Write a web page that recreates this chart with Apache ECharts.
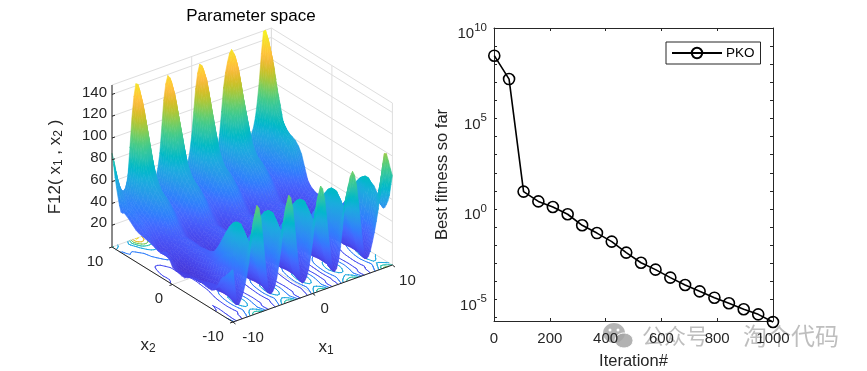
<!DOCTYPE html>
<html>
<head>
<meta charset="utf-8">
<style>html,body{margin:0;padding:0;background:#fff}#c{width:867px;height:371px}</style>
<script src="https://cdn.jsdelivr.net/npm/echarts@6/dist/echarts.min.js"></script>
</head>
<body>
<div id="c"></div>
<script>
// ---------- convergence curve ----------
const iterations = [1,54,106,159,211,264,316,369,422,474,527,579,632,685,737,790,842,895,947,1000];
const bestFitness = [2.95e8,1.51e7,9.12,2.63,1.29,0.513,0.126,0.0468,0.0158,0.00389,0.00107,4.47e-4,1.62e-4,6.31e-5,2.82e-5,1.26e-5,6.17e-6,2.88e-6,1.51e-6,5.75e-7];
const xTickLabels = [0,200,400,600,800,1000];
const yDecades = [-6,-5,-4,-3,-2,-1,0,1,2,3,4,5,6,7,8,9,10];
const yLabelDecades = [-5,0,5,10];

// ---------- surface samples ----------
const x1Values = [-10,-9.5,-9,-8.5,-8,-7.5,-7,-6.5,-6,-5.5,-5,-4.5,-4,-3.5,-3,-2.5,-2,-1.5,-1,-0.5,0,0.5,1,1.5,2,2.5,3,3.5,4,4.5,5,5.5,6,6.5,7,7.5,8,8.5,9,9.5,10];
const x2Values = [-10,-9.5,-9,-8.5,-8,-7,-6,-5,-4,-3,-2,-1,0,1,2,3,4,5,6,7,8,8.5,9,9.5,10];
const surfaceZ = [
[48,16,18,30,50,80,99,86,48,17,15,26,50,80,98,85,48,17,14,24,48,78,96,83,47,17,15,34,68,88,99,85,50,18,16,28,46,70,105,97,82],
[44,15,15,25,40,64,78,68,40,16,14,22,40,64,78,68,40,16,14,20,38,62,78,68,40,16,14,28,54,70,78,67,40,16,15,24,38,56,83,77,62],
[40,17,16,22,34,52,62,54,34,17,15,20,34,52,62,54,34,17,15,18,32,50,62,54,35,18,15,26,44,56,63,53,35,18,16,22,33,45,66,61,52],
[36,19,14,17,28,46,57,53,38,23,14,16,28,46,57,53,38,23,14,15,28,46,57,53,39,24,14,23,41,52,58,52,39,24,14,18,28,41,58,54,47],
[32,20,14,18,29,50,62,57,40,24,14,16,30,50,62,57,40,24,14,15,29,50,62,57,42,25,14,24,44,56,63,56,42,25,14,19,30,44,63,59,51],
[19,21,14,19,32,58,72,66,46,26,14,17,33,58,72,66,46,26,14,16,33,57,72,66,48,27,14,26,50,65,72,65,48,27,14,20,33,50,72,68,62],
[17,20,13,18,31,55,69,63,44,24,13,16,31,55,69,63,44,24,13,15,31,54,69,63,45,25,13,24,48,62,69,62,45,25,13,19,31,48,69,65,57],
[18,18,13,17,27,47,58,53,38,22,13,15,28,47,58,53,38,22,13,14,27,46,58,53,39,23,13,22,41,52,58,52,39,23,13,18,27,41,59,55,47],
[19,15,12,15,22,36,44,41,30,18,12,14,23,36,44,41,30,18,12,13,22,36,44,41,31,19,12,18,32,40,44,40,31,19,12,15,22,32,45,42,36],
[17,14,11,13,18,28,33,31,23,15,11,12,18,28,33,31,24,15,11,12,18,27,33,31,24,16,11,15,25,30,33,30,24,16,11,13,18,25,34,32,27],
[13,14,12,13,17,25,29,27,21,15,12,13,18,25,29,27,21,15,12,12,17,25,29,27,22,16,12,15,23,27,29,27,22,16,12,14,17,23,29,28,25],
[14,13,11,12,16,23,28,26,20,14,11,12,17,24,28,26,20,14,11,12,16,24,28,26,21,15,11,14,22,26,28,26,21,15,11,13,16,22,28,27,24],
[16,13,11,12,16,23,27,25,20,14,11,12,16,23,27,25,20,14,11,11,16,23,27,25,20,14,11,14,21,25,27,25,20,14,11,13,16,21,27,26,23],
[26,18,14,15,18,23,27,26,21,17,14,14,18,23,27,26,21,17,14,14,18,23,27,26,21,17,13,16,22,25,27,25,21,17,13,14,18,22,27,26,22],
[22,19,17,18,20,24,27,26,22,19,17,17,20,24,27,26,22,19,16,17,20,24,27,26,23,19,16,18,22,25,27,26,22,19,16,17,20,23,27,26,22],
[24,20,17,18,20,25,28,27,23,19,16,17,20,25,28,27,23,19,16,17,20,25,28,27,23,19,16,18,23,26,28,27,23,19,16,17,20,23,28,27,24],
[26,23,19,20,25,33,37,36,29,23,19,20,25,33,37,36,29,23,19,19,25,33,37,36,30,23,18,22,30,35,38,35,30,23,18,20,25,30,38,37,30],
[27,29,27,28,33,41,46,44,38,31,26,27,33,41,46,44,38,31,26,27,33,41,46,45,39,32,26,31,39,44,47,45,39,32,26,29,35,44,57,54,50],
[29,35,33,35,41,49,54,52,46,38,32,33,41,49,54,52,46,38,32,33,41,49,54,53,47,39,32,38,48,52,55,53,47,39,32,36,42,51,65,62,59],
[34,38,36,38,44,55,60,58,50,41,35,36,44,55,60,58,50,41,35,36,44,55,60,59,51,42,35,41,52,58,61,58,51,42,35,39,46,56,71,68,62],
[38,41,40,44,54,68,76,74,62,49,40,41,53,67,75,73,61,48,39,40,52,67,76,74,62,49,39,47,63,72,77,73,62,49,39,43,52,65,84,80,68],
[37,44,40,45,59,85,98,94,73,52,40,43,60,84,97,93,73,51,39,41,59,84,98,94,75,53,39,51,77,92,100,93,75,53,39,45,59,77,102,97,82],
[49,50,44,50,68,99,116,110,85,59,44,48,68,98,115,108,84,58,43,46,67,98,115,110,86,60,43,58,90,108,118,108,86,60,43,51,68,90,121,114,95],
[66,56,48,52,76,113,133,124,96,65,48,52,77,112,131,122,95,65,48,51,76,112,131,125,98,67,47,65,102,124,135,124,98,67,47,56,76,102,139,131,112],
[86,68,52,48,60,112,142,132,100,70,52,50,70,118,139,128,100,70,54,52,76,118,139,130,105,75,52,68,110,132,142,130,105,75,54,58,72,105,148,142,125]
];
const zTicks = [20,40,60,80,100,120,140];
const floorTicks = [-10,0,10];
const contourLevels = [20,40,60,80,100,120,140];

// ---------- view of the 3-D box ----------
const FONT = '"Liberation Sans", Arial, sans-serif';
const INK = '#262626';
const ORIGIN = [233,322], STEP1 = [7.97,-2.85], STEP2 = [-6.05,-3.75], ZSCALE = 1.09, ZTOP = 148.6;
function project(x1,x2,z){
  return [ORIGIN[0]+(x1+10)*STEP1[0]+(x2+10)*STEP2[0],
          ORIGIN[1]+(x1+10)*STEP1[1]+(x2+10)*STEP2[1]-z*ZSCALE];
}
const PARULA = [[.2422,.1504,.6603],[.2504,.1650,.7076],[.2578,.1818,.7511],[.2647,.1978,.7952],[.2706,.2147,.8364],[.2751,.2342,.8710],[.2783,.2559,.8991],[.2803,.2782,.9221],[.2813,.3006,.9414],[.2810,.3228,.9579],[.2795,.3447,.9717],[.2760,.3667,.9829],[.2699,.3892,.9906],[.2602,.4123,.9952],[.2440,.4358,.9988],[.2206,.4603,.9973],[.1963,.4847,.9892],[.1834,.5074,.9798],[.1786,.5289,.9682],[.1764,.5499,.9520],[.1687,.5703,.9359],[.1540,.5902,.9218],[.1460,.6091,.9079],[.1380,.6276,.8973],[.1248,.6459,.8883],[.1113,.6635,.8763],[.0952,.6798,.8598],[.0689,.6948,.8394],[.0297,.7082,.8163],[.0036,.7203,.7917],[.0067,.7312,.7660],[.0433,.7411,.7394],[.0964,.7500,.7120],[.1408,.7584,.6842],[.1717,.7670,.6554],[.1938,.7758,.6251],[.2161,.7843,.5923],[.2470,.7918,.5567],[.2906,.7973,.5188],[.3406,.8008,.4789],[.3909,.8029,.4354],[.4456,.8024,.3909],[.5044,.7993,.3480],[.5616,.7942,.3045],[.6174,.7876,.2612],[.6720,.7793,.2227],[.7242,.7698,.1910],[.7738,.7598,.1646],[.8203,.7498,.1535],[.8634,.7406,.1596],[.9035,.7330,.1774],[.9393,.7288,.2100],[.9728,.7298,.2394],[.9956,.7434,.2371],[.9970,.7659,.2199],[.9952,.7893,.2028],[.9892,.8136,.1885],[.9786,.8386,.1766],[.9676,.8639,.1643],[.9610,.8890,.1537],[.9597,.9135,.1423],[.9628,.9373,.1265],[.9691,.9606,.1064],[.9769,.9839,.0805]];
function parula(z){
  const t = Math.max(0,Math.min(1,z/152))*(PARULA.length-1);
  const i = Math.min(PARULA.length-2,Math.floor(t)), f = t-i;
  const c = [0,1,2].map(k=>Math.round(255*(PARULA[i][k]*(1-f)+PARULA[i+1][k]*f)));
  return 'rgb('+c.join(',')+')';
}

// Smooth display mesh between the read samples (the analogue of MATLAB's interp shading)
const SUB1 = 2, SUB2 = 2;
function cubic(a,b,c,d,t){
  return b+0.5*t*(c-a+t*(2*a-5*b+4*c-d+t*(3*(b-c)+d-a)));
}
function resample(arr,sub){
  const out=[], n=arr.length;
  for(let i=0;i<n-1;i++) for(let s=0;s<sub;s++){
    out.push(cubic(arr[Math.max(0,i-1)],arr[i],arr[i+1],arr[Math.min(n-1,i+2)],s/sub));
  }
  out.push(arr[n-1]);
  return out;
}
function linspaceBetween(arr,sub){
  const out=[];
  for(let i=0;i<arr.length-1;i++) for(let s=0;s<sub;s++) out.push(arr[i]+(arr[i+1]-arr[i])*s/sub);
  out.push(arr[arr.length-1]);
  return out;
}
const meshX1 = linspaceBetween(x1Values,SUB1);
const meshX2 = linspaceBetween(x2Values,SUB2);
const rowsFine = surfaceZ.map(r=>resample(r,SUB1));
const meshColumns = meshX1.map((_,i)=>resample(rowsFine.map(r=>r[i]),SUB2));
const meshZ = meshX2.map((_,j)=>meshX1.map((_,i)=>Math.max(3,meshColumns[i][j])));

// back-to-front cell order
const cells = [];
for(let i=meshX1.length-2;i>=0;i--) for(let j=meshX2.length-2;j>=0;j--) cells.push([i,j]);

function renderCell(params,api){
  const c = cells[params.dataIndex], i=c[0], j=c[1];
  const corners = [[i,j],[i+1,j],[i+1,j+1],[i,j+1]];
  const pts = corners.map(q=>api.coord(project(meshX1[q[0]],meshX2[q[1]],meshZ[q[1]][q[0]])));
  const zs = corners.map(q=>meshZ[q[1]][q[0]]);
  let lo=0,hi=0;
  zs.forEach((z,k)=>{ if(z<zs[lo]) lo=k; if(z>zs[hi]) hi=k; });
  let fill;
  if(Math.abs(pts[lo][1]-pts[hi][1])<1){ fill = parula((zs[lo]+zs[hi])/2); }
  else {
    const stops=[];
    for(let s=0;s<=3;s++) stops.push({offset:s/3,color:parula(zs[lo]+(zs[hi]-zs[lo])*s/3)});
    fill = new echarts.graphic.LinearGradient(0,pts[lo][1],0,pts[hi][1],stops,true);
  }
  return {type:'polygon',shape:{points:pts},style:{fill:fill,stroke:fill,lineWidth:0.6},silent:true};
}

// marching squares on the floor
function contourSegments(level){
  const segs=[];
  const cross=(a,b,za,zb)=>{const t=(level-za)/(zb-za);return [a[0]+(b[0]-a[0])*t,a[1]+(b[1]-a[1])*t];};
  for(let j=0;j<meshX2.length-1;j++) for(let i=0;i<meshX1.length-1;i++){
    const q=[[meshX1[i],meshX2[j]],[meshX1[i+1],meshX2[j]],[meshX1[i+1],meshX2[j+1]],[meshX1[i],meshX2[j+1]]];
    const z=[meshZ[j][i],meshZ[j][i+1],meshZ[j+1][i+1],meshZ[j+1][i]];
    const hits=[];
    for(let k=0;k<4;k++){
      const n=(k+1)%4;
      if((z[k]<level)!==(z[n]<level)) hits.push(cross(q[k],q[n],z[k],z[n]));
    }
    if(hits.length===2) segs.push([hits[0],hits[1]]);
    if(hits.length===4){ segs.push([hits[0],hits[1]]); segs.push([hits[2],hits[3]]); }
  }
  return segs;
}
function renderContour(params,api){
  const level=contourLevels[params.dataIndex];
  const color=parula(level);
  return {type:'group',silent:true,children:contourSegments(level).map(s=>{
    const a=api.coord(project(s[0][0],s[0][1],0)), b=api.coord(project(s[1][0],s[1][1],0));
    return {type:'line',shape:{x1:a[0],y1:a[1],x2:b[0],y2:b[1]},style:{stroke:color,lineWidth:1,lineCap:'round'}};
  })};
}

function lineEl(api,p,q,color,w){
  const a=api.coord(p), b=api.coord(q);
  return {type:'line',shape:{x1:a[0],y1:a[1],x2:b[0],y2:b[1]},style:{stroke:color,lineWidth:w}};
}
function renderWalls(params,api){
  const g='#dedede', ch=[];
  const add=(a,b)=>ch.push(lineEl(api,project(a[0],a[1],a[2]),project(b[0],b[1],b[2]),g,1));
  zTicks.concat([ZTOP]).forEach(z=>{ add([-10,10,z],[10,10,z]); add([10,10,z],[10,-10,z]); });
  floorTicks.forEach(t=>{
    add([t,10,0],[t,10,ZTOP]); add([10,t,0],[10,t,ZTOP]);
    add([t,-10,0],[t,10,0]); add([-10,t,0],[10,t,0]);
  });
  return {type:'group',silent:true,children:ch};
}
function textEl(api,p,dx,dy,text,align){
  const a=api.coord(p);
  return {type:'text',x:a[0]+dx,y:a[1]+dy,style:{text:text,fill:INK,fontFamily:FONT,fontSize:15,align:align,verticalAlign:'middle'}};
}
function renderFrame(params,api){
  const ink=INK, ch=[];
  const P=(a,b,c)=>project(a,b,c);
  ch.push(lineEl(api,P(-10,10,0),P(-10,10,ZTOP),ink,1));
  ch.push(lineEl(api,P(-10,10,0),P(-10,-10,0),ink,1));
  ch.push(lineEl(api,P(-10,-10,0),P(10,-10,0),ink,1));
  zTicks.forEach(z=>{
    const a=api.coord(P(-10,10,z));
    ch.push({type:'line',shape:{x1:a[0],y1:a[1],x2:a[0]+3,y2:a[1]-1},style:{stroke:ink,lineWidth:1}});
    ch.push(textEl(api,P(-10,10,z),-5,-2,String(z),'right'));
  });
  floorTicks.forEach(t=>{
    const a=api.coord(P(t,-10,0)), b=api.coord(P(-10,t,0));
    ch.push({type:'line',shape:{x1:a[0],y1:a[1],x2:a[0]+2.5,y2:a[1]+2},style:{stroke:ink,lineWidth:1}});
    ch.push({type:'line',shape:{x1:b[0],y1:b[1],x2:b[0]-3,y2:b[1]+1},style:{stroke:ink,lineWidth:1}});
    ch.push(textEl(api,P(t,-10,0),t===-10?20:(t===0?12:15),15.5,String(t),'center'));
    ch.push(textEl(api,P(-10,t,0),t===-10?-20:(t===0?-13.5:-17),14.5,String(t),'center'));
  });
  return {type:'group',silent:true,children:ch};
}

const sup=v=>{
  const e=Math.round(Math.log10(v));
  return '{b|10}{s|'+e+'}';
};
const labelRich={b:{fontSize:15,color:INK,fontFamily:FONT,padding:[5,0,0,0]},s:{fontSize:11.5,color:INK,fontFamily:FONT,padding:[0,0,5,0],verticalAlign:'top'}};
const Y_MIN=Math.pow(10,10-293/18.1);
const subRich={t:{fontSize:12,fontFamily:FONT,fill:INK,padding:[8,0,0,0]}};

const option={
  animation:false,
  backgroundColor:'#fff',
  textStyle:{fontFamily:FONT},
  title:{text:'Parameter space',left:246,top:3,textAlign:'center',textStyle:{fontFamily:FONT,fontSize:17,fontWeight:'normal',color:'#000'}},
  legend:{data:['PKO'],left:666,top:42,orient:'horizontal',itemWidth:50,itemHeight:13,itemGap:0,padding:[4,6,4,5],
    borderColor:INK,borderWidth:1,backgroundColor:'#fff',selectedMode:false,
    textStyle:{fontFamily:FONT,fontSize:13.5,color:'#000',padding:[0,0,0,-1]}},
  grid:[{left:0,top:0,width:867,height:371,show:false,outerBoundsMode:'none'},{left:494,top:28,width:279,height:293,show:false,outerBoundsMode:'none'}],
  xAxis:[
    {gridIndex:0,type:'value',min:0,max:867,show:false},
    {gridIndex:1,type:'value',min:0,max:1000,interval:200,position:'bottom',
      name:'Iteration#',nameLocation:'middle',nameGap:32,nameTextStyle:{fontFamily:FONT,fontSize:16.5,color:INK},
      axisLine:{show:true,onZero:false,lineStyle:{color:INK}},axisTick:{show:true,inside:true,length:3,lineStyle:{color:INK}},
      axisLabel:{fontFamily:FONT,fontSize:15,color:INK,margin:10,showMinLabel:true,showMaxLabel:true,customValues:xTickLabels,formatter:v=>String(v)},splitLine:{show:false}},
    {gridIndex:1,type:'value',min:0,max:1000,interval:200,position:'top',
      axisLine:{show:true,onZero:false,lineStyle:{color:INK}},axisTick:{show:true,inside:true,length:3,lineStyle:{color:INK}},
      axisLabel:{show:false},splitLine:{show:false}}
  ],
  yAxis:[
    {gridIndex:0,type:'value',min:0,max:371,inverse:true,show:false},
    {gridIndex:1,type:'log',logBase:10,min:Y_MIN,max:1e10,position:'left',
      name:'Best fitness so far',nameLocation:'middle',nameGap:43,nameTextStyle:{fontFamily:FONT,fontSize:16.5,color:INK},
      axisLine:{show:true,onZero:false,lineStyle:{color:INK}},
      axisTick:{show:true,inside:true,length:3,lineStyle:{color:INK},customValues:yDecades.map(d=>Math.pow(10,d))},
      axisLabel:{fontFamily:FONT,color:INK,margin:7,padding:[7,0,0,0],customValues:yLabelDecades.map(d=>Math.pow(10,d)),formatter:sup,rich:labelRich},
      splitLine:{show:false},minorTick:{show:false}},
    {gridIndex:1,type:'log',logBase:10,min:Y_MIN,max:1e10,position:'right',
      axisLine:{show:true,onZero:false,lineStyle:{color:INK}},
      axisTick:{show:true,inside:true,length:3,lineStyle:{color:INK},customValues:yDecades.map(d=>Math.pow(10,d))},
      axisLabel:{show:false},splitLine:{show:false},minorTick:{show:false}}
  ],
  series:[
    {type:'custom',name:'walls',xAxisIndex:0,yAxisIndex:0,data:[[0,0]],renderItem:renderWalls,clip:false,silent:true,z:1},
    {type:'custom',name:'floor contours',xAxisIndex:0,yAxisIndex:0,data:contourLevels.map(l=>[l,0]),renderItem:renderContour,clip:false,silent:true,z:2},
    {type:'custom',name:'surface',xAxisIndex:0,yAxisIndex:0,data:cells,renderItem:renderCell,clip:false,silent:true,progressive:0,z:3},
    {type:'custom',name:'frame',xAxisIndex:0,yAxisIndex:0,data:[[0,0]],renderItem:renderFrame,clip:false,silent:true,z:4},
    {type:'line',name:'PKO',xAxisIndex:1,yAxisIndex:1,data:iterations.map((x,i)=>[x,bestFitness[i]]),
      clip:false,symbol:'circle',symbolSize:11,showSymbol:true,showAllSymbol:true,
      lineStyle:{color:'#000',width:1.6},itemStyle:{color:'transparent',borderColor:'#000',borderWidth:1.6},z:5}
  ],
  graphic:[
    {type:'text',x:55,y:167,rotation:Math.PI/2,style:{text:'F12( x{t|1} , x{t|2} )',fontFamily:FONT,fontSize:17,fill:INK,align:'center',verticalAlign:'middle',rich:subRich}},
    {type:'text',x:148,y:345,style:{text:'x{t|2}',fontFamily:FONT,fontSize:17,fill:INK,align:'center',verticalAlign:'middle',rich:subRich}},
    {type:'text',x:326,y:347,style:{text:'x{t|1}',fontFamily:FONT,fontSize:17,fill:INK,align:'center',verticalAlign:'middle',rich:subRich}},
    {type:'group',silent:true,z:100,children:[
      {type:'ellipse',shape:{cx:614,cy:333,rx:11,ry:10},style:{fill:'rgba(150,150,150,0.7)'}},
      {type:'ellipse',shape:{cx:624,cy:340.5,rx:9,ry:7.5},style:{fill:'rgba(165,165,165,0.85)',stroke:'#fff',lineWidth:1}},
      {type:'circle',shape:{cx:610,cy:330,r:1.5},style:{fill:'#fff'}},
      {type:'circle',shape:{cx:618,cy:330,r:1.5},style:{fill:'#fff'}},
      {type:'text',x:642,y:336,style:{text:'公众号',fontFamily:'"Noto Sans CJK SC"',fontSize:22,fill:'rgba(150,150,150,0.62)',verticalAlign:'middle'}},
      {type:'text',x:743,y:336,style:{text:'淘个代码',fontFamily:'"Noto Sans CJK SC"',fontSize:24,fill:'rgba(150,150,150,0.62)',verticalAlign:'middle'}}
    ]}
  ]
};
const chart=echarts.init(document.getElementById('c'),null,{renderer:'canvas'});
chart.setOption(option);
</script>
</body>
</html>
